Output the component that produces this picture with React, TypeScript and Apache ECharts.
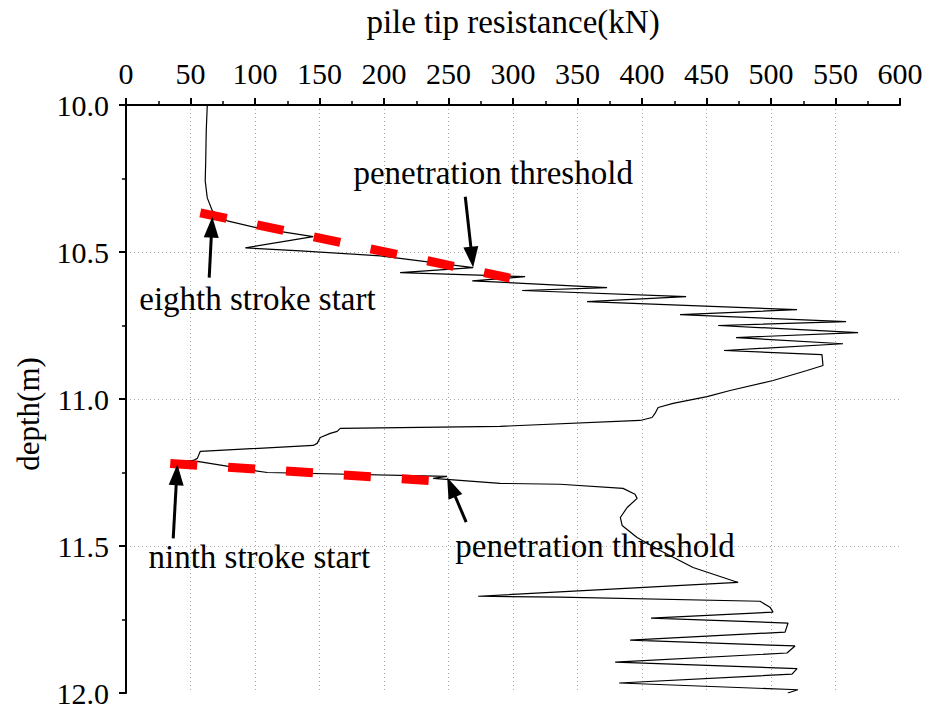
import React, { useEffect, useRef } from "react";
import * as echarts from "echarts";

// pile tip resistance (kN) along the driving record
const resistanceKN = [
  63.0, 62.2, 61.8, 61.4, 63.0, 66.9, 78.5, 101.7, 145.1, 92.5,
  135.1, 197.1, 269.1, 212.5, 309.4, 268.4, 372.9, 307.1, 434.2, 357.4,
  520.2, 429.5, 558.2, 459.0, 567.5, 472.9, 555.8, 463.6, 539.5, 540.3,
  527.9, 501.6, 468.3, 450.4, 424.1, 412.5, 410.1, 407.8, 398.5, 290.0,
  166.1, 163.7, 158.3, 150.6, 148.2, 145.1, 57.6, 55.3, 52.2, 36.6,
  55.3, 98.7, 109.5, 248.9, 238.1, 290.0, 336.4, 385.3, 394.6, 396.2,
  388.5, 383.2, 384.6, 396.2, 414.0, 439.6, 462.9, 474.5, 273.0, 336.4,
  491.5, 499.2, 501.6, 407.0, 513.2, 510.9, 390.8, 518.6, 512.4, 379.2,
  520.2, 516.3, 382.3, 520.9, 513.0,
];
// depth (m)
const depthM = [
  10.0, 10.088, 10.19, 10.258, 10.316, 10.36, 10.394, 10.418, 10.448, 10.486,
  10.496, 10.513, 10.553, 10.57, 10.584, 10.598, 10.621, 10.631, 10.652, 10.669,
  10.696, 10.713, 10.737, 10.75, 10.774, 10.791, 10.812, 10.835, 10.849, 10.886,
  10.903, 10.937, 10.971, 10.992, 11.015, 11.029, 11.049, 11.063, 11.073, 11.093,
  11.1, 11.11, 11.117, 11.131, 11.151, 11.158, 11.178, 11.202, 11.209, 11.216,
  11.212, 11.243, 11.25, 11.263, 11.27, 11.287, 11.29, 11.304, 11.324, 11.338,
  11.369, 11.403, 11.43, 11.471, 11.515, 11.573, 11.607, 11.624, 11.671, 11.674,
  11.688, 11.708, 11.725, 11.745, 11.762, 11.793, 11.82, 11.84, 11.864, 11.895,
  11.917, 11.936, 11.966, 11.989, 12.0,
];

// penetration threshold lines (red dashed)
const eighthThresholdX = [57.6, 297.6];
const eighthThresholdY = [10.367, 10.589];
const ninthThresholdX = [34.3, 243.6];
const ninthThresholdY = [11.219, 11.28];

// annotation labels: text, x (kN), depth (m)
const labelTexts = ["penetration threshold", "eighth stroke start", "ninth stroke start", "penetration threshold"];
const labelX = [284.6, 101.9, 103.4, 363.6];
const labelY = [10.231, 10.659, 11.538, 11.501];
// arrows: from -> to (data coords)
const arrowFromX = [263.0, 64.5, 36.6, 263.7];
const arrowFromY = [10.312, 10.587, 11.474, 11.419];
const arrowToX = [269.1, 66.9, 39.8, 249.0];
const arrowToY = [10.553, 10.38, 11.222, 11.267];

const xTicks = { min: 0, max: 600, interval: 50 };
const yTicks = { min: 10, max: 12, interval: 0.5 };
const yAxisTitle = "depth(m)";

const FONT = "Liberation Serif";

export default function App() {
  const ref = useRef<HTMLDivElement>(null);
  useEffect(() => {
    document.body.style.margin = "0";
    const el = ref.current!;
    const chart = echarts.init(el, null, { renderer: "svg" });
    const zip = (xs: number[], ys: number[]) => xs.map((x, i) => [x, ys[i]]);
    const gridLine = { show: true, showMaxLine: false, showMinLine: false, lineStyle: { color: "#aaa", width: 1, type: [1, 3] as any } };
    chart.setOption({
      animation: false,
      backgroundColor: "#fff",
      textStyle: { fontFamily: FONT },
      grid: { left: 126, right: 30, top: 104, bottom: 16, containLabel: false },
      xAxis: {
        type: "value",
        position: "top",
        ...xTicks,
        name: "pile tip resistance(kN)",
        nameLocation: "middle",
        nameGap: 67,
        nameTextStyle: { fontFamily: FONT, fontSize: 33, color: "#000" },
        axisLine: { show: true, onZero: false, lineStyle: { color: "#000", width: 2 } },
        axisTick: { show: true, length: 7, lineStyle: { color: "#000", width: 2 } },
        minorTick: { show: true, splitNumber: 2, length: 4, lineStyle: { color: "#000", width: 1.5 } },
        axisLabel: { fontFamily: FONT, fontSize: 30, color: "#000", margin: 17 },
        splitLine: gridLine,
      },
      yAxis: {
        type: "value",
        inverse: true,
        position: "left",
        ...yTicks,
        axisLine: { show: true, onZero: false, lineStyle: { color: "#000", width: 2 } },
        axisTick: { show: true, length: 7, lineStyle: { color: "#000", width: 2 } },
        minorTick: { show: true, splitNumber: 2, length: 4, lineStyle: { color: "#000", width: 1.5 } },
        axisLabel: { fontFamily: FONT, fontSize: 30, color: "#000", margin: 17, formatter: (v: number) => v.toFixed(1) },
        splitLine: gridLine,
      },
      series: [
        {
          type: "line",
          data: zip(resistanceKN, depthM),
          showSymbol: false,
          symbol: "none",
          lineStyle: { color: "#000", width: 1.2 },
          z: 2,
        },
        {
          type: "line",
          data: zip(eighthThresholdX, eighthThresholdY),
          symbol: "none",
          lineStyle: { color: "#ff0000", width: 9, type: [27, 31], cap: "butt" },
          z: 3,
        },
        {
          type: "line",
          data: zip(ninthThresholdX, ninthThresholdY),
          symbol: "none",
          lineStyle: { color: "#ff0000", width: 9, type: [27, 31], cap: "butt" },
          z: 3,
        },
      ],
    });

    const px = (p: number[]) => chart.convertToPixel({ gridIndex: 0 }, p) as number[];
    const graphics: any[] = [];
    graphics.push({
      type: "text",
      x: 28,
      y: 414,
      rotation: Math.PI / 2,
      z: 10,
      style: { text: yAxisTitle, fontFamily: FONT, fontSize: 31, fill: "#000", align: "center", verticalAlign: "middle" },
    });
    labelTexts.forEach((t, i) => {
      const [x, y] = px([labelX[i], labelY[i]]);
      graphics.push({
        type: "text",
        x,
        y,
        z: 10,
        style: { text: t, fontFamily: FONT, fontSize: 33, fill: "#000", align: "center", verticalAlign: "middle" },
      });
    });
    arrowFromX.forEach((_, i) => {
      const [x1, y1] = px([arrowFromX[i], arrowFromY[i]]);
      const [x2, y2] = px([arrowToX[i], arrowToY[i]]);
      const dx = x2 - x1, dy = y2 - y1;
      const L = Math.hypot(dx, dy);
      const ux = dx / L, uy = dy / L;
      const hl = 21, hw = 7.5;
      const bx = x2 - ux * hl, by = y2 - uy * hl;
      graphics.push({
        type: "line",
        z: 10,
        shape: { x1, y1, x2: bx + ux * 2, y2: by + uy * 2 },
        style: { stroke: "#000", lineWidth: 3 },
      });
      graphics.push({
        type: "polygon",
        z: 10,
        shape: { points: [[x2, y2], [bx - uy * hw, by + ux * hw], [bx + uy * hw, by - ux * hw]] },
        style: { fill: "#000" },
      });
    });
    chart.setOption({ graphic: graphics });

    return () => chart.dispose();
  }, []);
  return <div ref={ref} style={{ position: "absolute", left: 0, top: 0, width: 930, height: 709 }} />;
}
